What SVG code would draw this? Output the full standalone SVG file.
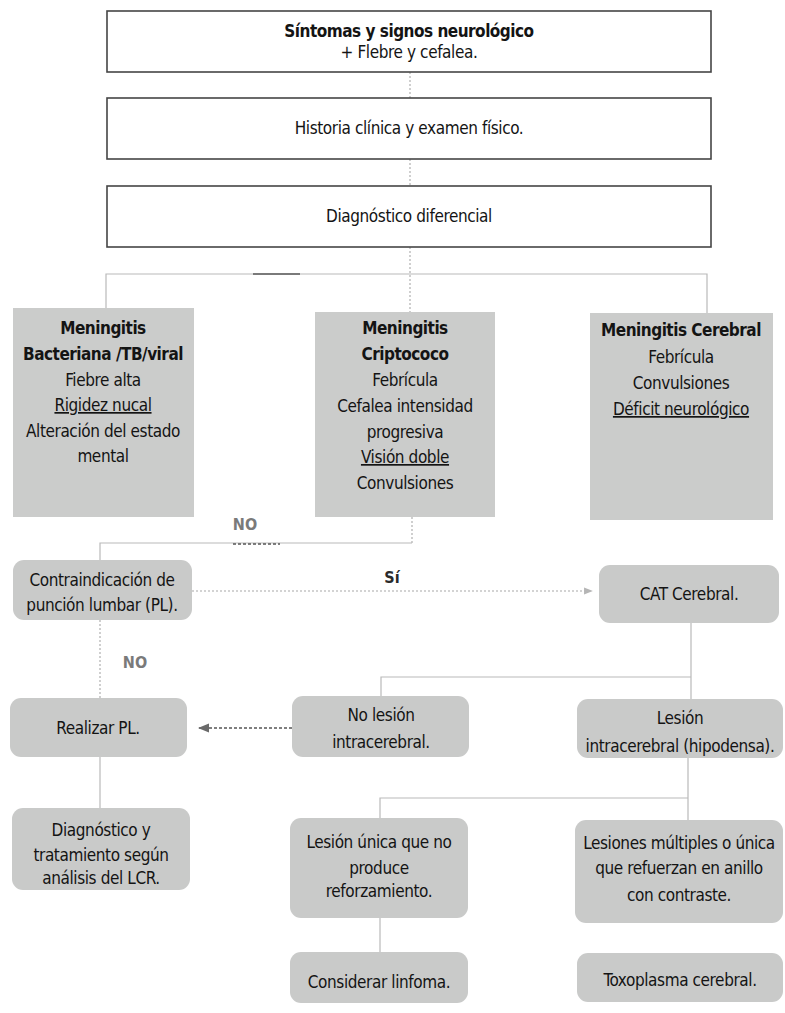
<svg xmlns="http://www.w3.org/2000/svg" width="785" height="1013" viewBox="0 0 785 1013">
  <defs>
    <style>
      text { font-family: 'Liberation Sans Narrow', 'DejaVu Sans Condensed', 'Liberation Sans', sans-serif; font-size: 17px; fill: #141414; text-anchor: middle; letter-spacing: -0.4px; }
      .b { font-weight: bold; letter-spacing: -0.5px; }
      .u { text-decoration: underline; }
      .lbl { font-weight: bold; fill: #7a7a7a; font-size: 16px; letter-spacing: 0; }
      .si { font-weight: bold; fill: #2a2a2a; font-size: 16px; letter-spacing: 0; }
      .frame { fill: #ffffff; stroke: #454545; stroke-width: 1.6; }
      .grey { fill: #cbcccb; }
      .round { fill: #c9cac9; }
      .line { fill: none; stroke: #b9b9b9; stroke-width: 1.2; }
      .dot { fill: none; stroke: #a8a8a8; stroke-width: 1.1; stroke-dasharray: 2 2; }
      .dark { fill: none; stroke: #555555; stroke-width: 1.4; stroke-dasharray: 3 2; }
    </style>
    <marker id="arrowLight" viewBox="0 0 10 10" refX="9" refY="5" markerWidth="8" markerHeight="8" orient="auto">
      <path d="M0,1 L10,5 L0,9 Z" fill="#b5b5b5"/>
    </marker>
    <marker id="arrowDark" viewBox="0 0 10 10" refX="9" refY="5" markerWidth="8" markerHeight="8" orient="auto">
      <path d="M0,1 L10,5 L0,9 Z" fill="#6a6a6a"/>
    </marker>
  </defs>
  <rect width="785" height="1013" fill="#ffffff"/>

  <!-- connectors -->
  <g id="connectors">
    <path class="dot" d="M410,72 V98"/>
    <path class="dot" d="M410,159 V186"/>
    <path class="dot" d="M410,247 V312"/>
    <path class="line" d="M106,308 V274 H707 V313"/>
    <path d="M253,274 H300" stroke="#5a5a5a" stroke-width="1.4" fill="none"/>
    <path class="dot" d="M412,517 V543"/>
    <path class="line" d="M412,543 H100 V560"/>
    <path class="dark" d="M233,544 H280" stroke-width="1" stroke="#777777"/>
    <path class="dot" d="M192,591 H592" marker-end="url(#arrowLight)"/>
    <path class="dot" d="M100,620 V698" stroke="#8a8a8a"/>
    <path class="line" d="M100,757 V808"/>
    <path class="line" d="M691,623 V700"/>
    <path class="line" d="M691,677 H381 V696"/>
    <path class="dark" d="M292,728 H199" stroke="#7a7a7a" stroke-width="1.1" marker-end="url(#arrowDark)"/>
    <path class="line" d="M688,758 V820"/>
    <path class="line" d="M688,798 H380 V818"/>
    <path class="line" d="M380,918 V952"/>
  </g>

  <!-- top boxes -->
  <g id="sintomas">
    <rect class="frame" x="107" y="11" width="604" height="61"/>
    <text x="409" y="37" class="b">Síntomas y signos neurológico</text>
    <text x="409" y="58">+ Flebre y cefalea.</text>
  </g>
  <g id="historia">
    <rect class="frame" x="107" y="98" width="604" height="61"/>
    <text x="409" y="134">Historia clínica y examen físico.</text>
  </g>
  <g id="diagnostico-diferencial">
    <rect class="frame" x="107" y="186" width="604" height="61"/>
    <text x="409" y="222">Diagnóstico diferencial</text>
  </g>

  <!-- meningitis types -->
  <g id="meningitis-bacteriana">
    <rect class="grey" x="13" y="308" width="181" height="209"/>
    <text x="103" y="334" class="b">Meningitis</text>
    <text x="103" y="360" class="b">Bacteriana /TB/viral</text>
    <text x="103" y="386">Fiebre alta</text>
    <text x="103" y="411" class="u">Rigidez nucal</text>
    <text x="103" y="437">Alteración del estado</text>
    <text x="103" y="462">mental</text>
  </g>
  <g id="meningitis-criptococo">
    <rect class="grey" x="315" y="312" width="180" height="205"/>
    <text x="405" y="334" class="b">Meningitis</text>
    <text x="405" y="360" class="b">Criptococo</text>
    <text x="405" y="386">Febrícula</text>
    <text x="405" y="412">Cefalea intensidad</text>
    <text x="405" y="438">progresiva</text>
    <text x="405" y="463" class="u">Visión doble</text>
    <text x="405" y="489">Convulsiones</text>
  </g>
  <g id="meningitis-cerebral">
    <rect class="grey" x="590" y="313" width="183" height="207"/>
    <text x="681" y="336" class="b">Meningitis Cerebral</text>
    <text x="681" y="363">Febrícula</text>
    <text x="681" y="389">Convulsiones</text>
    <text x="681" y="415" class="u">Déficit neurológico</text>
  </g>

  <!-- branch labels -->
  <text x="245" y="530" class="lbl">NO</text>
  <text x="392" y="583" class="si">Sí</text>
  <text x="135" y="668" class="lbl">NO</text>

  <!-- decision flow -->
  <g id="contraindicacion">
    <rect class="round" x="13" y="560" width="179" height="60" rx="11"/>
    <text x="102" y="586">Contraindicación de</text>
    <text x="102" y="611">punción lumbar (PL).</text>
  </g>
  <g id="cat-cerebral">
    <rect class="round" x="599" y="565" width="180" height="58" rx="11"/>
    <text x="689" y="600">CAT Cerebral.</text>
  </g>
  <g id="realizar-pl">
    <rect class="round" x="10" y="698" width="177" height="59" rx="11"/>
    <text x="98" y="734">Realizar PL.</text>
  </g>
  <g id="no-lesion">
    <rect class="round" x="292" y="696" width="177" height="61" rx="11"/>
    <text x="381" y="721">No lesión</text>
    <text x="381" y="748">intracerebral.</text>
  </g>
  <g id="lesion">
    <rect class="round" x="577" y="699" width="206" height="59" rx="11"/>
    <text x="680" y="724">Lesión</text>
    <text x="680" y="752">intracerebral (hipodensa).</text>
  </g>
  <g id="diagnostico-lcr">
    <rect class="round" x="12" y="808" width="178" height="82" rx="11"/>
    <text x="101" y="836">Diagnóstico y</text>
    <text x="101" y="861">tratamiento según</text>
    <text x="101" y="884">análisis del LCR.</text>
  </g>
  <g id="lesion-unica">
    <rect class="round" x="290" y="818" width="178" height="100" rx="11"/>
    <text x="379" y="848">Lesión única que no</text>
    <text x="379" y="874">produce</text>
    <text x="379" y="897">reforzamiento.</text>
  </g>
  <g id="lesiones-multiples">
    <rect class="round" x="575" y="820" width="208" height="103" rx="11"/>
    <text x="679" y="849">Lesiones múltiples o única</text>
    <text x="679" y="874">que refuerzan en anillo</text>
    <text x="679" y="901">con contraste.</text>
  </g>
  <g id="linfoma">
    <rect class="round" x="290" y="952" width="178" height="51" rx="11"/>
    <text x="379" y="988">Considerar linfoma.</text>
  </g>
  <g id="toxoplasma">
    <rect class="round" x="577" y="953" width="206" height="49" rx="11"/>
    <text x="680" y="986">Toxoplasma cerebral.</text>
  </g>
</svg>
